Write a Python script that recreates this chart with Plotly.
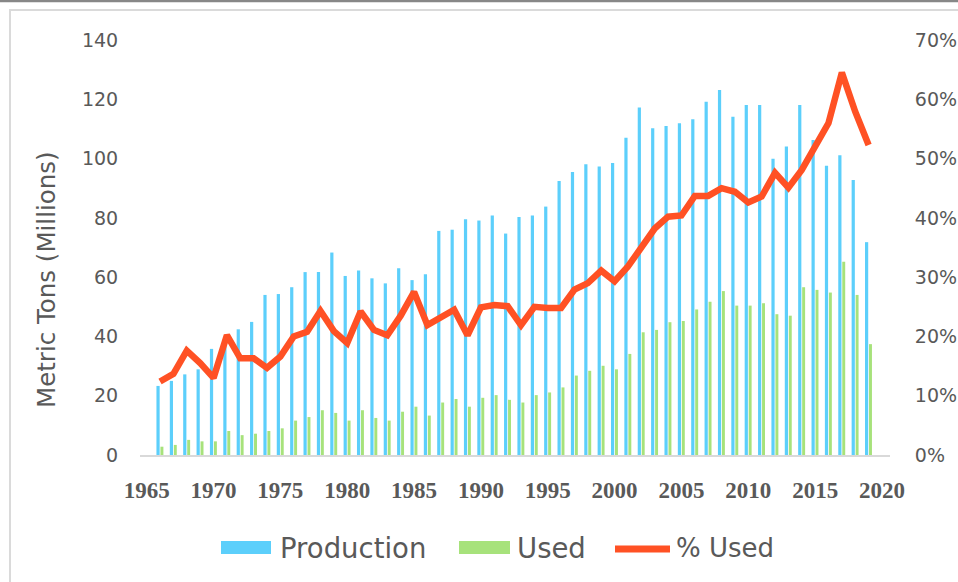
import plotly.graph_objects as go

years = list(range(1966, 2020))
production = [23.3, 25.0, 27.2, 28.9, 35.8, 38.0, 42.4, 44.9, 54.0, 54.3,
              56.6, 61.7, 61.7, 68.3, 60.4, 62.2, 59.6, 57.9, 63.0, 59.0,
              61.0, 75.6, 76.0, 79.5, 79.1, 80.8, 74.7, 80.3, 80.8, 83.8,
              92.4, 95.5, 98.1, 97.3, 98.5, 107.0, 117.2, 110.2, 111.0, 111.9,
              113.3, 119.2, 123.1, 114.1, 118.1, 118.1, 99.9, 104.1, 118.1, 106.3,
              97.6, 101.1, 92.8, 71.8]
used = [2.8, 3.4, 5.1, 4.6, 4.6, 8.1, 6.7, 7.2, 8.1, 9.0,
        11.6, 12.8, 15.1, 14.2, 11.6, 15.1, 12.5, 11.6, 14.6, 16.3,
        13.3, 17.7, 18.9, 16.3, 19.3, 20.2, 18.6, 17.7, 20.2, 21.1,
        22.8, 26.8, 28.4, 30.1, 28.9, 34.1, 41.4, 42.2, 44.8, 45.2,
        49.1, 51.7, 55.3, 50.4, 50.4, 51.2, 47.5, 47.0, 56.6, 55.7,
        54.8, 65.2, 54.0, 37.4]
pct_used = [12.4, 13.7, 17.6, 15.5, 13.0, 20.2, 16.3, 16.3, 14.7, 16.6,
            20.0, 20.8, 24.3, 20.9, 18.9, 24.2, 21.1, 20.2, 23.5, 27.5,
            21.9, 23.1, 24.5, 20.2, 24.9, 25.3, 25.1, 21.9, 25.0, 24.8,
            24.8, 27.9, 29.0, 31.1, 29.3, 31.8, 35.1, 38.2, 40.2, 40.4,
            43.7, 43.7, 45.0, 44.4, 42.6, 43.6, 47.6, 45.1, 48.1, 52.0,
            56.0, 64.5, 57.9, 52.3]
pct_frac = [p / 100 for p in pct_used]

x_ticks = list(range(1965, 2021, 5))
left_ticks = list(range(0, 141, 20))
right_ticks = [i / 10 for i in range(0, 8)]

BLUE = "#5CCFFB"
GREEN = "#A7E27B"
RED = "#FF5124"
TXT = "#595959"

fig = go.Figure()
fig.add_trace(go.Bar(x=years, y=production, name="Production", marker_color=BLUE,
                     marker_line_width=0, width=0.24, offset=-0.27))
fig.add_trace(go.Bar(x=years, y=used, name="Used", marker_color=GREEN,
                     marker_line_width=0, width=0.22, offset=0.03))
fig.add_trace(go.Scatter(x=years, y=pct_frac, name="% Used", yaxis="y2", mode="lines",
                         line=dict(color=RED, width=6.5)))

L, R, T, B = 140, 890, 40, 455
W, H = R - L, B - T


def px(xp):
    return (xp - L) / W


def py(yp):
    return (B - yp) / H


shapes = [
    dict(type="rect", xref="paper", yref="paper", x0=px(-5), x1=px(965), y0=py(2.2), y1=py(-5),
         fillcolor="#878787", line_width=0, layer="below"),
    dict(type="rect", xref="paper", yref="paper", x0=px(10), x1=px(975), y0=py(600), y1=py(10),
         fillcolor="rgba(0,0,0,0)", line=dict(color="#DADADA", width=2), layer="below"),
    # legend swatches
    dict(type="rect", xref="paper", yref="paper", x0=px(221), x1=px(271), y0=py(554), y1=py(541),
         fillcolor=BLUE, line_width=0),
    dict(type="rect", xref="paper", yref="paper", x0=px(459), x1=px(510), y0=py(554), y1=py(541),
         fillcolor=GREEN, line_width=0),
    dict(type="line", xref="paper", yref="paper", x0=px(615), x1=px(670), y0=py(549), y1=py(549),
         line=dict(color=RED, width=7)),
]

LEG_FONT = dict(family="DejaVu Sans", size=27.5, color=TXT)
annotations = [
    dict(text="Production", x=px(278), y=py(548), xref="paper", yref="paper", xanchor="left",
         yanchor="middle", showarrow=False, font=LEG_FONT),
    dict(text="Used", x=px(515), y=py(548), xref="paper", yref="paper", xanchor="left",
         yanchor="middle", showarrow=False, font=LEG_FONT),
    dict(text="% Used", x=px(674), y=py(548), xref="paper", yref="paper", xanchor="left",
         yanchor="middle", showarrow=False,
         font=dict(family="DejaVu Sans", size=26, color=TXT)),
    dict(text="Metric Tons (Millions)", x=px(46), y=py(280), xref="paper", yref="paper",
         xanchor="center", yanchor="middle", textangle=-90, showarrow=False,
         font=dict(family="DejaVu Sans", size=24.5, color=TXT)),
]

fig.update_layout(
    width=958, height=582, autosize=False,
    margin=dict(l=L, r=958 - R, t=T, b=582 - B, autoexpand=False),
    paper_bgcolor="white", plot_bgcolor="white",
    barmode="overlay",
    showlegend=False,
    shapes=shapes,
    annotations=annotations,
    xaxis=dict(range=[1964.5, 2020.6], tickvals=x_ticks, ticktext=[str(v) for v in x_ticks],
               showgrid=False, zeroline=False, showline=True, linecolor="#D9D9D9", linewidth=2,
               ticks="outside", ticklen=13, tickcolor="rgba(0,0,0,0)", automargin=False,
               tickfont=dict(family="Liberation Serif", size=23, color=TXT, weight="bold")),
    yaxis=dict(range=[0, 140], tickvals=left_ticks, showgrid=False, zeroline=False,
               showline=False, ticks="outside", ticklen=17, tickcolor="rgba(0,0,0,0)",
               automargin=False,
               tickfont=dict(family="DejaVu Sans", size=19, color=TXT)),
    yaxis2=dict(range=[0, 0.7], tickvals=right_ticks, tickformat=".0%", overlaying="y",
                side="right", showgrid=False, zeroline=False, showline=False,
                ticks="outside", ticklen=20, tickcolor="rgba(0,0,0,0)", automargin=False,
                tickfont=dict(family="DejaVu Sans", size=19, color=TXT)),
)

post = (
    "document.documentElement.style.margin='0';"
    "document.body.style.margin='0';document.body.style.padding='0';"
    "document.body.style.overflow='hidden';"
)

fig.write_html("out.html", post_script=post,
               config={"responsive": False, "displayModeBar": False})
